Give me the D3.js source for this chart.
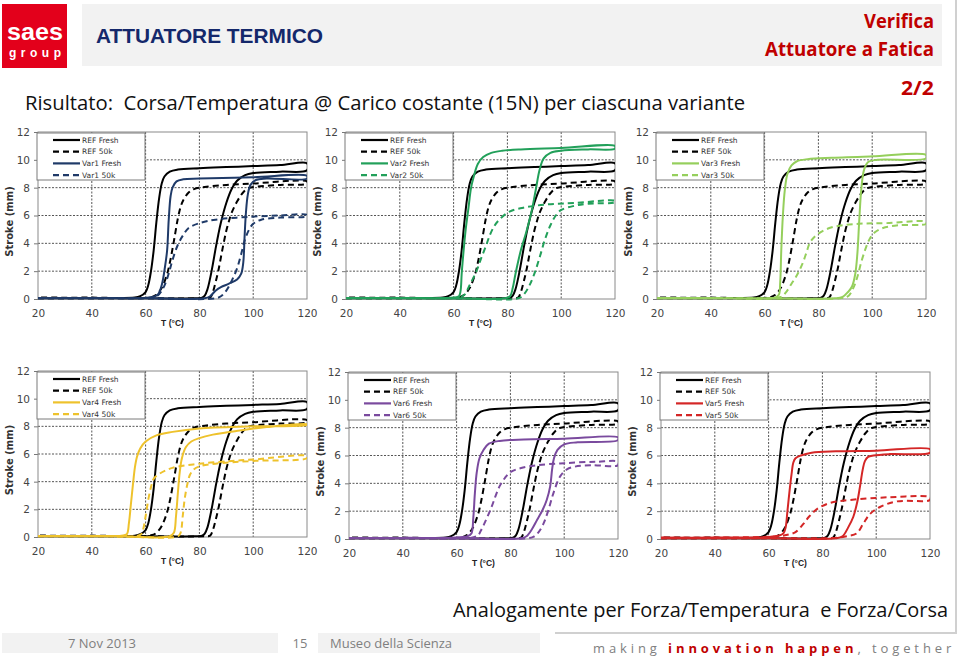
<!doctype html>
<html lang="it">
<head>
<meta charset="UTF-8" />
<title>Attuatore termico - Corsa/Temperatura</title>
<script src="https://d3js.org/d3.v7.min.js"></script>
<style>
  body { margin: 0; background: #fff; }
  svg { display: block; }
  text { white-space: pre; }
  .tick text { font-family: "DejaVu Sans", sans-serif; font-size: 10.5px; fill: #444; }
  .tick line { stroke: #777; }
</style>
</head>
<body>
<script>
// assi comuni
const xTicks = [20, 40, 60, 80, 100, 120];
const yTicks = [0, 2, 4, 6, 8, 10, 12];

// curve di riferimento (riscaldamento poi raffreddamento), [T, corsa]
const refFresh = [[20,0.05],[60,0.05],[78,0.05],[81,0.1],[82,0.25],[83,0.7],[84,1.5],[85,2.5],[86,3.6],[87,4.6],[88,5.5],[90,6.9],[92,7.9],[94,8.5],[97,8.9],[100,9.05],[110,9.15],[120,9.25],
  [120,9.75],[110,9.62],[100,9.55],[90,9.48],[80,9.4],[72,9.3],[69,9.15],[67,8.8],[66,8.3],[65,7.2],[64,5.5],[63,3.5],[62,2],[61,1],[60,0.5],[58,0.2],[56,0.1],[40,0.08],[20,0.08]];
const ref50k = [[20,0.05],[60,0.05],[82,0.05],[84,0.1],[85,0.5],[86,1.2],[87,2],[88,3],[89,4],[90,4.9],[91,5.6],[92,6.2],[94,7],[96,7.6],[98,7.95],[100,8.05],[110,8.2],[120,8.3],
  [120,8.45],[100,8.3],[90,8.2],[82,8.05],[78,7.9],[76,7.65],[74,7.1],[73,6.6],[72,5.8],[71,4.7],[70,3.6],[69,2.6],[68,1.8],[66,0.8],[64,0.3],[62,0.12],[40,0.1],[20,0.1]];

// varianti
const var1Fresh = [[20,0.05],[60,0.05],[82,0.05],[84,0.2],[86,0.6],[88,0.85],[91,1.1],[94,1.4],[95.5,1.8],[96.3,2.6],[96.8,4.5],[97.3,6.2],[98,7.5],[99,8.2],[101,8.55],[105,8.65],[120,8.65],
  [120,8.85],[100,8.75],[80,8.65],[74,8.6],[71.5,8.45],[70,8],[69.3,7.4],[68.6,5.7],[68,3.5],[67.2,2.3],[66,1],[64.5,0.3],[62,0.12],[40,0.08],[20,0.08]];
const var1_50k = [[20,0.05],[60,0.05],[86,0.05],[88,0.2],[90,0.6],[92,1.3],[94,2.2],[95.5,3.2],[97,4.3],[98.5,5],[100,5.4],[103,5.7],[110,5.85],[120,5.95],
  [120,6.05],[110,6],[98,5.9],[86,5.7],[80,5.45],[76,5.1],[74,4.6],[72,3.9],[70,2.8],[69,2.1],[67.5,1.2],[66,0.6],[64,0.2],[40,0.08],[20,0.08]];
const var2Fresh = [[20,0.05],[60,0.05],[79,0.05],[81,0.2],[82,0.8],[83,1.8],[85,3.5],[87,4.8],[89,6.3],[90.5,7.8],[92,9.3],[93.5,10.1],[96,10.5],[100,10.65],[110,10.75],[120,10.8],
  [120,11],[100,10.85],[85,10.75],[78,10.65],[74,10.5],[71,10.2],[69,9.7],[67.5,8.8],[66.5,8],[65.5,6.5],[64.5,5],[63.5,3],[63,1.8],[62.6,0.6],[62,0.2],[60,0.1],[40,0.08],[20,0.08]];
const var2_50k = [[20,0.05],[60,0.05],[84,0.05],[86,0.3],[88,0.9],[90,1.8],[92,3],[94,4.3],[96,5.3],[98,6],[100,6.4],[105,6.7],[110,6.85],[120,6.95],
  [120,7.05],[105,6.9],[95,6.8],[87,6.6],[81,6.3],[77,5.7],[75,5.2],[73.5,4.6],[72,3.8],[70,2.8],[68.5,2],[66,1],[64,0.3],[62,0.1],[40,0.08],[20,0.08]];
const var3Fresh = [[20,0.05],[60,0.05],[86,0.05],[89,0.15],[91,0.5],[92.5,0.9],[93.7,1.8],[94.5,3.3],[95.2,5.7],[96,8],[97,9.3],[98.5,9.85],[102,10],[120,10.1],
  [120,10.35],[100,10.25],[85,10.15],[76,10.05],[72,9.9],[70,9.6],[68.5,9],[67.5,7.8],[66.8,6],[66.2,3.5],[65.8,1.2],[65.3,0.3],[64,0.12],[40,0.08],[20,0.08]];
const var3_50k = [[20,0.05],[60,0.05],[88,0.05],[91,0.2],[93,0.8],[94.5,1.6],[96,2.7],[97.5,3.6],[99,4.3],[101,4.8],[104,5.1],[110,5.3],[120,5.4],
  [120,5.55],[105,5.45],[95,5.4],[85,5.15],[80,4.7],[77,4.1],[75.5,3.3],[74,2.5],[72,1.7],[70,1.1],[68,0.5],[66,0.15],[40,0.08],[20,0.08]];
const var4Fresh = [[20,0.05],[50,0.05],[69,0.05],[70.5,0.3],[71.3,1.5],[72,3.2],[72.7,4.7],[73.5,5.7],[75,6.5],[77,6.9],[80,7.15],[85,7.4],[95,7.7],[105,7.95],[120,8.15],
  [120,8.1],[100,8],[80,7.85],[70,7.6],[64,7.35],[60,6.9],[58,6.4],[56.8,5.8],[56,5],[55.3,3.8],[54.5,2.3],[53.8,1],[53,0.2],[51,0.1],[40,0.08],[20,0.08]];
const var4_50k = [[20,0.05],[50,0.05],[72,0.05],[73,0.3],[73.8,1.5],[74.5,2.7],[75.5,3.8],[76.5,4.5],[78,4.9],[80,5.1],[86,5.3],[100,5.5],[120,5.7],
  [120,5.85],[100,5.6],[92,5.5],[80,5.3],[70,5],[65,4.55],[63,4.2],[62,3.6],[61,2.7],[60,1.5],[59,0.5],[58,0.15],[40,0.08],[20,0.08]];
const var6Fresh = [[20,0.05],[60,0.05],[84,0.05],[86,0.2],[88,0.7],[90,1.4],[92,2.1],[93.5,2.8],[94.8,3.8],[95.5,5],[96.2,5.8],[97.5,6.4],[100,6.8],[105,6.95],[120,7.1],
  [120,7.3],[100,7.2],[85,7.15],[76,7.05],[72,6.85],[70,6.4],[68.5,5.8],[67.5,4.8],[66.8,3.3],[66.2,1.5],[65.5,0.4],[64,0.2],[40,0.08],[20,0.08]];
const var6_50k = [[20,0.05],[60,0.05],[86,0.05],[88.5,0.15],[90.5,0.5],[92.3,1.1],[94,2],[96,3.3],[98.5,4.5],[101,5],[104,5.2],[110,5.3],[120,5.3],
  [120,5.55],[112,5.55],[100,5.45],[90,5.3],[84,5.1],[80,4.8],[78,4.4],[76,3.8],[74.5,3.1],[73,2.3],[71,1.4],[69,0.6],[67.5,0.2],[40,0.08],[20,0.08]];
const var5Fresh = [[20,0.05],[60,0.05],[85,0.05],[87.5,0.2],[89.5,0.8],[91.5,1.6],[93,2.7],[94,3.8],[95,5],[95.8,5.6],[97,5.9],[99,6],[105,6.1],[120,6.2],
  [120,6.45],[100,6.35],[85,6.3],[76,6.2],[72,6],[70,5.8],[69.2,5.5],[68.5,4.6],[67.7,3.3],[67,2],[66.3,0.8],[65.5,0.4],[64,0.25],[60,0.15],[40,0.1],[20,0.1]];
const var5_50k = [[20,0.05],[60,0.05],[86,0.1],[89,0.2],[92.7,0.4],[95.2,1.1],[97.7,1.8],[101.4,2.3],[107.6,2.7],[120,2.8],
  [120,3],[105,3],[90,2.8],[83,2.6],[78,2.15],[75,1.6],[73,1.1],[70,0.5],[67,0.3],[64,0.2],[40,0.1],[20,0.1]];

// un pannello per variante (ordine della slide)
const variantNames = ["Var1", "Var2", "Var3", "Var4", "Var6", "Var5"];
const variantFresh = [var1Fresh, var2Fresh, var3Fresh, var4Fresh, var6Fresh, var5Fresh];
const variant50k = [var1_50k, var2_50k, var3_50k, var4_50k, var6_50k, var5_50k];
const variantColors = ["#1f3a68", "#22a05a", "#95cf5c", "#eec22c", "#7a4a9e", "#d42626"];

// posizione delle aree del grafico
const panels = [
  { x0: 38, x1: 307, y0: 132, y1: 299 },
  { x0: 346, x1: 615, y0: 132, y1: 299 },
  { x0: 657, x1: 926, y0: 132, y1: 299 },
  { x0: 38, x1: 307, y0: 371, y1: 537 },
  { x0: 349, x1: 618, y0: 372, y1: 539 },
  { x0: 661, x1: 930, y0: 372, y1: 539 }
];

const svg = d3.select("body").append("svg")
  .attr("width", 960).attr("height", 657);

svg.append("rect").attr("width", 960).attr("height", 657).attr("fill", "#fff");

// ---- intestazione ----
svg.append("rect").attr("x", 2).attr("y", 4).attr("width", 65).attr("height", 64).attr("fill", "#e3001b");
svg.append("text").attr("x", 35).attr("y", 40).attr("text-anchor", "middle")
  .attr("font-family", "Liberation Sans, Arial, sans-serif").attr("font-weight", "bold")
  .attr("font-size", 24).attr("fill", "#fff").attr("textLength", 56).attr("lengthAdjust", "spacingAndGlyphs").text("saes");
svg.append("text").attr("x", 35).attr("y", 57).attr("text-anchor", "middle")
  .attr("font-family", "Liberation Sans, Arial, sans-serif").attr("font-weight", "bold")
  .attr("font-size", 12).attr("fill", "#fff").attr("textLength", 52).text("group");

svg.append("rect").attr("x", 82).attr("y", 4).attr("width", 860).attr("height", 62).attr("fill", "#f2f2f2");
svg.append("text").attr("x", 96).attr("y", 43)
  .attr("font-family", "Liberation Sans, Arial, sans-serif").attr("font-weight", "bold")
  .attr("font-size", 21).attr("fill", "#14286b").attr("textLength", 227).attr("lengthAdjust", "spacingAndGlyphs")
  .text("ATTUATORE TERMICO");

const redTitle = (txt, y, w) => svg.append("text").attr("x", 934).attr("y", y).attr("text-anchor", "end")
  .attr("font-family", "Open Sans, sans-serif").attr("font-weight", "bold")
  .attr("font-size", 20).attr("fill", "#c00000").attr("textLength", w).attr("lengthAdjust", "spacingAndGlyphs")
  .text(txt);
redTitle("Verifica", 28, 70);
redTitle("Attuatore a Fatica", 56, 169);
redTitle("2/2", 95, 33);

svg.append("text").attr("x", 25).attr("y", 110)
  .attr("font-family", "Open Sans, sans-serif").attr("font-size", 20).attr("fill", "#111")
  .attr("textLength", 720).attr("lengthAdjust", "spacingAndGlyphs")
  .text("Risultato:  Corsa/Temperatura @ Carico costante (15N) per ciascuna variante");

// bordo destro della slide
svg.append("line").attr("x1", 956).attr("x2", 956).attr("y1", 0).attr("y2", 634)
  .attr("stroke", "#d0d0d0").attr("stroke-width", 2);

// ---- pannelli ----
const line = d3.line().curve(d3.curveCatmullRom.alpha(0.5));

panels.forEach((p, i) => {
  const x = d3.scaleLinear().domain([20, 120]).range([p.x0, p.x1]);
  const y = d3.scaleLinear().domain([0, 12]).range([p.y1, p.y0]);
  const g = svg.append("g");

  // griglia tratteggiata
  g.selectAll(".vg").data(xTicks.slice(1, -1)).join("line")
    .attr("x1", d => x(d)).attr("x2", d => x(d)).attr("y1", p.y0).attr("y2", p.y1)
    .attr("stroke", "#555").attr("stroke-dasharray", "2,1.5");
  g.selectAll(".hg").data(yTicks.slice(1, -1)).join("line")
    .attr("x1", p.x0).attr("x2", p.x1).attr("y1", d => y(d)).attr("y2", d => y(d))
    .attr("stroke", "#555").attr("stroke-dasharray", "2,1.5");

  // assi
  const ay = g.append("g").attr("transform", `translate(${p.x0},0)`)
    .call(d3.axisLeft(y).tickValues(yTicks).tickSize(4).tickPadding(4));
  ay.select(".domain").remove();
  const ax = g.append("g").attr("transform", `translate(0,${p.y1})`)
    .call(d3.axisBottom(x).tickValues(xTicks).tickSize(0).tickPadding(11));
  ax.select(".domain").remove();

  g.append("rect").attr("x", p.x0).attr("y", p.y0)
    .attr("width", p.x1 - p.x0).attr("height", p.y1 - p.y0)
    .attr("fill", "none").attr("stroke", "#8a8a8a");

  g.append("text").attr("transform", `translate(${p.x0 - 25},${(p.y0 + p.y1) / 2 + 6}) rotate(-90)`)
    .attr("text-anchor", "middle").attr("font-family", "DejaVu Sans, sans-serif")
    .attr("font-weight", "bold").attr("font-size", 10).attr("fill", "#333").text("Stroke (mm)");
  g.append("text").attr("x", x(70)).attr("y", p.y1 + 27).attr("text-anchor", "middle")
    .attr("font-family", "Liberation Sans, sans-serif").attr("font-weight", "bold")
    .attr("font-size", 8.5).attr("fill", "#222").text("T (°C)");

  // curve, tagliate sul bordo dell'area
  const clipId = "clip" + i;
  g.append("clipPath").attr("id", clipId).append("rect")
    .attr("x", p.x0).attr("y", p.y0 - 4).attr("width", p.x1 - p.x0).attr("height", p.y1 - p.y0 + 8);

  const series = [
    { name: "REF Fresh", data: refFresh, color: "#000", dash: null },
    { name: "REF 50k", data: ref50k, color: "#000", dash: "6,4" },
    { name: variantNames[i] + " Fresh", data: variantFresh[i], color: variantColors[i], dash: null },
    { name: variantNames[i] + " 50k", data: variant50k[i], color: variantColors[i], dash: "6,4" }
  ];

  const lines = g.append("g").attr("clip-path", `url(#${clipId})`);
  series.forEach(s => {
    lines.append("path")
      .attr("d", line(s.data.map(d => [x(d[0]), y(d[1])])))
      .attr("fill", "none").attr("stroke", s.color).attr("stroke-width", 2)
      .attr("stroke-dasharray", s.dash);
  });

  // legenda
  const lx = p.x0 - 1, ly = p.y0 + 1;
  const lg = g.append("g").attr("transform", `translate(${lx},${ly})`);
  lg.append("rect").attr("width", 108).attr("height", 47)
    .attr("fill", "#fff").attr("stroke", "#7a7a7a");
  series.forEach((s, k) => {
    const yy = 7 + k * 11.7;
    lg.append("line").attr("x1", 16).attr("x2", 43).attr("y1", yy).attr("y2", yy)
      .attr("stroke", s.color).attr("stroke-width", 2.2).attr("stroke-dasharray", s.dash);
    lg.append("text").attr("x", 45).attr("y", yy + 2.7)
      .attr("font-family", "DejaVu Sans, sans-serif").attr("font-size", 7.5).attr("fill", "#333")
      .text(s.name);
  });
});

// ---- piede ----
svg.append("text").attr("x", 948).attr("y", 617).attr("text-anchor", "end")
  .attr("font-family", "Open Sans, sans-serif").attr("font-size", 20).attr("fill", "#111")
  .attr("textLength", 495).attr("lengthAdjust", "spacingAndGlyphs")
  .text("Analogamente per Forza/Temperatura  e Forza/Corsa");
svg.append("line").attr("x1", 555).attr("x2", 956).attr("y1", 633).attr("y2", 633)
  .attr("stroke", "#d0d0d0").attr("stroke-width", 2);

svg.append("rect").attr("x", 2).attr("y", 633).attr("width", 276).attr("height", 20).attr("fill", "#f2f2f2");
svg.append("rect").attr("x", 318).attr("y", 633).attr("width", 222).attr("height", 20).attr("fill", "#f2f2f2");
const footText = (txt, x, anchor) => svg.append("text").attr("x", x).attr("y", 648).attr("text-anchor", anchor)
  .attr("font-family", "Open Sans, sans-serif").attr("font-size", 13).attr("fill", "#7f7f7f").text(txt);
footText("7 Nov 2013", 102, "middle");
footText("15", 300, "middle");
footText("Museo della Scienza", 330, "start");

const motto = svg.append("text").attr("x", 593).attr("y", 653)
  .attr("font-family", "Open Sans, sans-serif").attr("font-size", 13).attr("letter-spacing", 3.9)
  .attr("fill", "#808080");
motto.append("tspan").text("making ");
motto.append("tspan").attr("fill", "#c00000").attr("font-weight", "bold").text("innovation happen");
motto.append("tspan").text(", together");
</script>
</body>
</html>
